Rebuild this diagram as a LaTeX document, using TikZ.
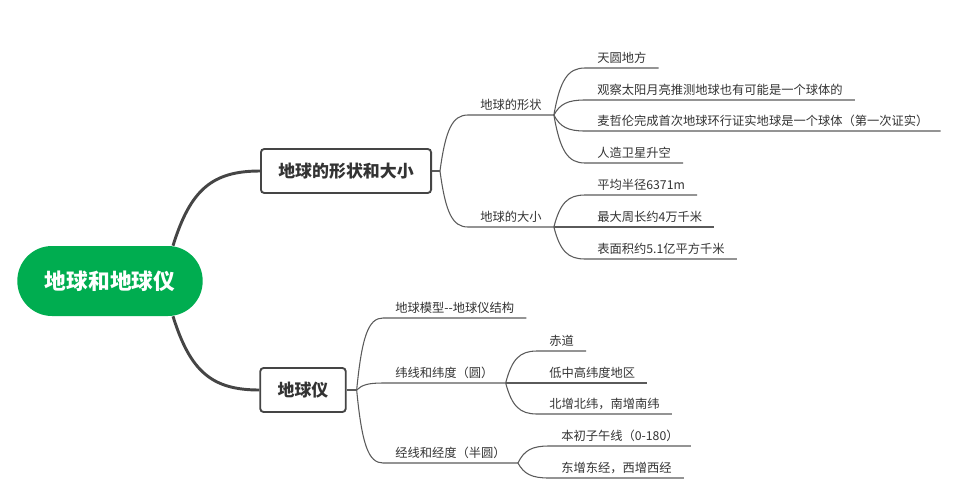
\documentclass[tikz,border=0pt]{standalone}
\usepackage{fontspec}
\setmainfont{Noto Sans CJK SC}
\usetikzlibrary{positioning,calc}
\definecolor{rootgreen}{HTML}{00AD50}
\definecolor{ink}{HTML}{333333}
\definecolor{wire}{HTML}{5A5A5A}
\definecolor{trunk}{HTML}{454545}

\begin{document}
\begin{tikzpicture}[x=0.75pt, y=-0.75pt,
  font=\fontsize{9.2}{11}\selectfont, text=ink,
  root/.style={fill=rootgreen, text=white, rounded corners=26pt, minimum width=139pt, minimum height=52.5pt, font=\fontsize{16.3}{19}\selectfont\bfseries},
  topic/.style={draw=trunk, line width=1.4pt, rounded corners=2.5pt, fill=white, minimum height=33pt, inner xsep=13pt, font=\fontsize{12.7}{15}\selectfont\bfseries},
  sub/.style={anchor=south west, inner xsep=9pt, inner ysep=3pt},
  trunkline/.style={draw=trunk, line width=2.2pt},
  twig/.style={draw=wire, line width=0.8pt},
  branch/.style={to path={let \p1=(\tikztostart), \p2=(\tikztotarget) in
      .. controls ({\x1+0.2*(\x2-\x1)},{\y1+0.75*(\y2-\y1)}) and ({\x1+0.45*(\x2-\x1)},\y2) .. (\tikztotarget)}}
]
\useasboundingbox (0,0) rectangle (964,500);

\node[root] (root) at (110,281) {地球和地球仪};
\node[topic] (form) at (346,171) {地球的形状和大小};
\node[topic] (globe) at (303,390) {地球仪};

\coordinate (rtop) at ($(root.north)+(63,0)$);
\coordinate (rbot) at ($(root.south)+(63,0)$);
\coordinate (jform) at ($(form.east)+(8,0)$);
\coordinate (jglobe) at ($(globe.east)+(10,0)$);

% second level
\node[sub] (shp) at (468,115) {地球的形状};
\node[sub] (size) at (468,227) {地球的大小};
\node[sub] (model) at (383,318) {地球模型-{}-地球仪结构};
\node[sub] (lat) at (383,383) {纬线和纬度（圆）};
\node[sub] (lon) at (383,463) {经线和经度（半圆）};

% leaves
\node[sub] (tian) at (585,68) {天圆地方};
\node[sub] (obs) at (585,100) {观察太阳月亮推测地球也有可能是一个球体的};
\node[sub] (mag) at (585,131) {麦哲伦完成首次地球环行证实地球是一个球体（第一次证实）};
\node[sub] (sat) at (585,163) {人造卫星升空};
\node[sub] (rad) at (585,195) {平均半径6371m};
\node[sub] (circ) at (585,227) {最大周长约4万千米};
\node[sub] (area) at (585,259) {表面积约5.1亿平方千米};
\node[sub] (equ) at (537,351) {赤道};
\node[sub] (zone) at (537,383) {低中高纬度地区};
\node[sub] (ns) at (537,414) {北增北纬，南增南纬};
\node[sub] (pm) at (549,446) {本初子午线（0-180）};
\node[sub] (ew) at (549,478) {东增东经，西增西经};

\draw[trunkline] (rtop) to[branch] (form.west);
\draw[trunkline] (rbot) to[branch] (globe.west);
\draw[twig] (form.east) -- (jform) (globe.east) -- (jglobe);
\foreach \a/\b in {jform/shp, jform/size, jglobe/model, jglobe/lat, jglobe/lon}
  \draw[twig] (\a) to[branch] (\b.south west) -- (\b.south east);
\foreach \a/\b in {shp/tian, shp/obs, shp/mag, shp/sat, size/rad, size/circ, size/area, lat/equ, lat/zone, lat/ns, lon/pm, lon/ew}
  \draw[twig] (\a.south east) to[branch] (\b.south west) -- (\b.south east);
\end{tikzpicture}
\end{document}
